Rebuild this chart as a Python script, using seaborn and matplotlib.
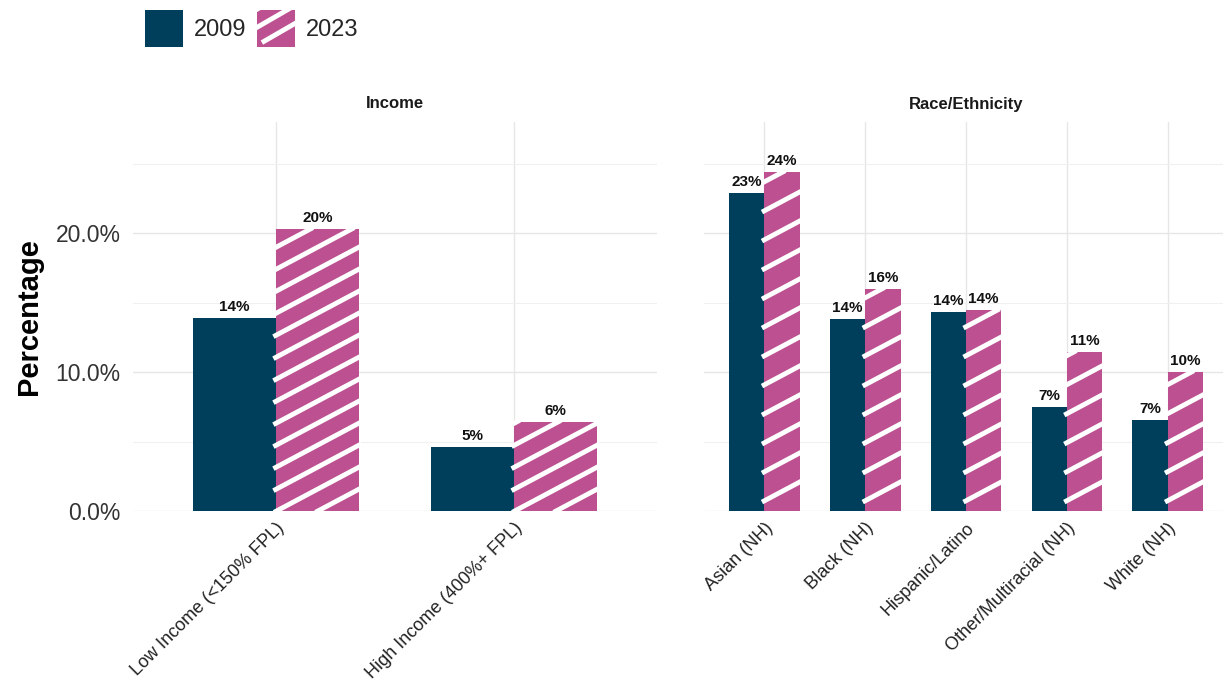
import matplotlib
matplotlib.use("Agg")
import matplotlib.pyplot as plt
import matplotlib.transforms as mtransforms
import seaborn as sns
import pandas as pd
import numpy as np
from matplotlib.collections import LineCollection
from matplotlib.patches import Patch, Rectangle
from matplotlib.legend_handler import HandlerPatch
from matplotlib.ticker import MultipleLocator, FuncFormatter

# ---------------- data ----------------
years = ["2009", "2023"]
income_groups = ["Low Income (<150% FPL)", "High Income (400%+ FPL)"]
income_2009 = [13.9, 4.63]
income_2023 = [20.3, 6.43]
race_groups = ["Asian (NH)", "Black (NH)", "Hispanic/Latino",
               "Other/Multiracial (NH)", "White (NH)"]
race_2009 = [22.9, 13.8, 14.3, 7.45, 6.55]
race_2023 = [24.4, 16.0, 14.45, 11.45, 10.0]
panel_titles = ["Income", "Race/Ethnicity"]
y_label = "Percentage"

navy = "#003f5c"
pink = "#bc5090"
palette = {"2009": navy, "2023": pink}


def long_df(groups, v09, v23):
    rows = []
    for g, a, b in zip(groups, v09, v23):
        rows.append({"group": g, "year": "2009", "value": a})
        rows.append({"group": g, "year": "2023", "value": b})
    return pd.DataFrame(rows)


df_inc = long_df(income_groups, income_2009, income_2023)
df_race = long_df(race_groups, race_2009, race_2023)

# ---------------- style ----------------
sns.set_theme(style="white")
plt.rcParams["font.family"] = ["Liberation Sans", "DejaVu Sans"]

W, H = 1223, 696
fig = plt.figure(figsize=(W / 100, H / 100), dpi=100)
ax_bottom = (H - 511) / H
ax_height = 389 / H
ax1 = fig.add_axes([133 / W, ax_bottom, 524 / W, ax_height])
ax2 = fig.add_axes([704 / W, ax_bottom, 524 / W, ax_height])

panels = [(ax1, df_inc, income_groups, 22), (ax2, df_race, race_groups, 29)]
STRIPE_SLOPE = np.tan(np.deg2rad(28))


def stripe_segments(x0, x1, y0, y1, slope, spacing, over=2.5):
    """Diagonal stripe segments clipped to the box [x0,x1]x[y0,y1]."""
    segs = []
    rise = (x1 - x0) * slope
    c = y0 - rise - spacing
    while c < y1 + spacing:
        xa = max(x0, x0 + (y0 - c) / slope) - over
        xb = min(x1, x0 + (y1 - c) / slope) + over
        if xb - xa > 2 * over:
            segs.append([(xa, c + slope * (xa - x0)),
                         (xb, c + slope * (xb - x0))])
        c += spacing
    return segs


for ax, df, order, vspace in panels:
    sns.barplot(data=df, x="group", y="value", hue="year", order=order,
                hue_order=years, palette=palette, width=0.7, linewidth=0,
                saturation=1, errorbar=None, legend=False, ax=ax)
    ax.set_xlim(-0.6, len(order) - 0.4)
    ax.set_ylim(0, 28)
    ax.set_xlabel("")
    ax.set_ylabel("")
    for s in ax.spines.values():
        s.set_visible(False)
    ax.set_axisbelow(True)
    ax.yaxis.set_major_locator(MultipleLocator(10))
    ax.yaxis.set_minor_locator(MultipleLocator(5))
    ax.grid(which="major", axis="both", color="#e6e6e6", linewidth=1.0)
    ax.grid(which="minor", axis="y", color="#f0f0f0", linewidth=0.8)
    ax.tick_params(axis="both", which="both", length=0)
    ax.tick_params(axis="x", pad=6)
    ax.tick_params(axis="y", pad=9)
    ax.yaxis.set_major_formatter(FuncFormatter(lambda v, p: f"{v:.1f}%"))
    for lab in ax.get_yticklabels():
        lab.set_fontsize(16.5)
        lab.set_color("#333333")
    ax.set_xticks(range(len(order)))
    ax.set_xticklabels(order, rotation=45, ha="right", va="top",
                       rotation_mode="anchor", fontsize=13, color="#222222")

    # value labels
    for cont in ax.containers:
        labels = [f"{int(b.get_height() + 0.5)}%" for b in cont]
        ax.bar_label(cont, labels=labels, padding=3, fontsize=11,
                     fontweight="bold", color="#111111")

    # white diagonal stripes on the 2023 bars
    for patch in ax.containers[1]:
        bb = patch.get_window_extent()
        segs = stripe_segments(bb.x0, bb.x1, bb.y0, bb.y1, STRIPE_SLOPE, vspace)
        lc = LineCollection(segs, colors="white", linewidths=3.5,
                            transform=mtransforms.IdentityTransform(),
                            zorder=patch.get_zorder() + 0.1)
        lc.set_clip_path(patch)
        ax.add_collection(lc, autolim=False)

ax2.tick_params(labelleft=False)
ax1.set_ylabel(y_label, fontsize=21, fontweight="bold", color="black",
               labelpad=9)

# panel strip titles
for ax, title in zip([ax1, ax2], panel_titles):
    ax.text(0.5, 1 + 18 / 389, title, transform=ax.transAxes, ha="center",
            va="center", fontsize=12, fontweight="bold", color="#1a1a1a")


# ---------------- legend ----------------
class StripedHandler(HandlerPatch):
    def create_artists(self, legend, orig_handle, xdescent, ydescent,
                       width, height, fontsize, trans):
        rect = Rectangle((-xdescent, -ydescent), width, height,
                         facecolor=orig_handle.get_facecolor(),
                         edgecolor="none", transform=trans)
        x0, x1 = -xdescent, -xdescent + width
        y0, y1 = -ydescent, -ydescent + height
        segs = stripe_segments(x0, x1, y0 + 4, y1 + 4,
                               np.tan(np.deg2rad(30)), 13.0, over=1.5)
        lc = LineCollection(segs, colors="white", linewidths=3.5,
                            transform=trans)
        lc.set_clip_path(rect)
        return [rect, lc]


h09 = Patch(facecolor=navy, edgecolor="none", label="2009")
h23 = Patch(facecolor=pink, edgecolor="none", label="2023")
fig.legend(handles=[h09, h23], loc="upper left",
           bbox_to_anchor=(145 / W, 1 - 10 / H), ncol=2, frameon=False,
           fontsize=17, handlelength=1.6, handleheight=2.03,
           handletextpad=0.47, columnspacing=0.47, borderpad=0,
           borderaxespad=0, handler_map={h23: StripedHandler()})

fig.savefig("out.png", dpi=100, facecolor="white")
